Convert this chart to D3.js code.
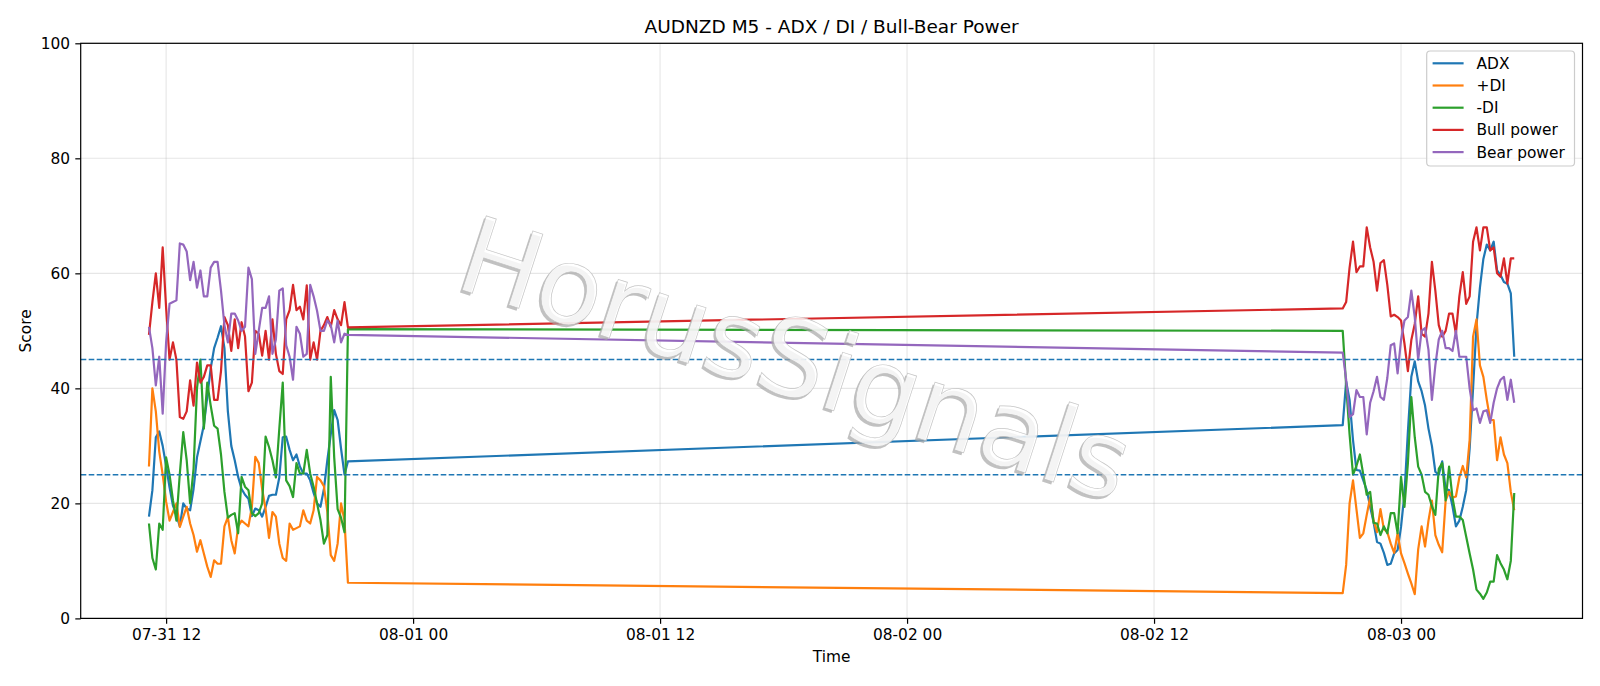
<!DOCTYPE html>
<html><head><meta charset="utf-8">
<script src="https://cdn.jsdelivr.net/npm/d3@7/dist/d3.min.js"></script>
<style>
body{margin:0;background:#fff;}
svg{display:block;font-family:"DejaVu Sans",sans-serif;}
</style>
</head><body>
<svg id="chart" width="1600" height="686"></svg>
<script>
// ---- data (10-minute samples, two trading sessions) ----
const session1Start = "2020-07-31T11:10:00Z";
const session1Count = 59;
const session2Start = "2020-08-02T21:10:00Z";
const session2Count = 51;
const stepMinutes = 10;

const adx = [
  17.7,22.3,31.5,32.5,30,26.5,22.8,19.6,18,16,
  20,19.1,18.8,22.5,28,30.8,33.6,38.5,43.5,47,
  48.8,50.8,47,36,30,27.5,24.6,22.5,21.5,20.8,
  17.8,19.1,18.8,17.7,19.4,21.3,21.5,21.5,24.5,31.5,
  31.6,29.3,27.5,28.5,26.4,25.2,25.2,24,21.8,20,
  19.4,22.5,27.5,32,36.2,34.5,29.5,25,27.3,
  33.6,41.2,38,31,25.8,25.7,24,22.3,19.4,16.7,
  13.3,13,11.4,9.3,9.5,11.3,11.9,15.9,21.7,32.5,
  42,44.7,41.2,39.5,37,33,30,25.5,25,27.3,
  22.5,22.3,19.5,16,17,19.4,22.3,29.5,40,51,
  57.5,62.5,65,64,65.5,60.5,59.7,58.5,58.2,56.5,
  45.5
];
const plusDI = [
  26.4,40,36,29,25,20.3,17,18.5,20,15.9,
  17.7,19.4,16.5,14.5,11.6,13.6,11.3,9,7.2,10.1,
  9.5,9.5,16,17.6,13.6,11.3,16,17,16.5,16,
  19.4,28.1,27,22.5,19,14,18.5,17.7,13,10.5,
  10,16.5,15.4,15.7,16,18.8,17,16.5,18.8,24.6,
  24,23,18.5,11,10,13,20,17,6.2,
  4.4,9.3,20,24,19,14,14.8,18,21,17,
  15,19,15.5,15,13,11.4,14.8,11.3,9.6,7.8,
  6.1,4.2,12,16,12.5,17,20.5,14.5,12.8,11.5,
  20.5,22,21,21.2,24.5,26.5,24.5,31,49,52,
  44,42,38,34.5,34.5,27.5,31.5,28.5,27,22,
  18.8
];
const minusDI = [
  16.5,10.5,8.5,16.5,15.4,28,25,20.5,17,25.2,
  32.4,27.5,20,26,40,45,33,41,37,33.5,
  33,28.5,22,17.5,18,18.3,14.8,24.6,22.9,22.3,
  18.3,17.8,18.3,20,31.6,29.8,27.5,24.5,33,41,
  24,23,21.1,27,25.2,25.2,29.3,25.2,22.9,20,
  17.1,13,14.5,42,28,19,17.5,15,50.3,
  50,40.5,32,25,26.5,28.5,25,21.5,22,16.6,
  16.5,14.5,16,14.8,18.3,18.3,14.8,24.6,19.4,27,
  38.5,31.5,26.4,25,22,21.5,19.5,18,26,27,
  20.5,26.4,21,17.7,17.7,17.1,14.2,11.3,8.5,5,
  4.3,3.4,4.5,6.4,6.4,11,9.6,8.5,6.8,10,
  21.8
];
const bullPower = [
  49.3,55,60,54,64.5,54,45,48,45,35,
  34.7,36,41.4,37,44.5,41,42,44,44,38,
  38,43,52.4,51,46.5,52,47,51.5,49,39.5,
  41,50,49.5,45.7,50,45,52,46,43,42.5,
  52,53.6,58,53.6,54.2,52,57.9,45,48,45,
  50,51,52.4,50.7,53.6,52,51,55,50.6,
  53.9,55,61,65.5,60.2,61.2,61.2,68,64.5,62,
  57,61.8,62.3,58,52.5,52.8,52.4,51.8,47.8,43,
  48.4,51.2,56,49.5,49,53,62,57,51,49,
  50,53,53,49.5,56,60.2,54.7,56,65.5,68,
  64,68,68,64,64.5,60,59.4,62.6,58.2,62.6,
  62.6
];
const bearPower = [
  50.7,47,40.5,45.5,35.6,48,54.7,55,55.3,65.2,
  65,63.8,58.8,62,57.5,60.5,56,56,61,62,
  62,57,51,48,53,53,51.8,50,50.7,61,
  59,46,50,54,54,56,46,48.5,57,57.4,
  47.5,45.5,41.5,50.7,49.5,45.5,46,58,56,53.5,
  50,50,51.8,51,48,51.8,48,49.5,49.3,
  46.2,41.5,35,35.5,39.7,38.5,38.5,32,37.5,39.5,
  42,38.5,38,41.8,47.5,47.8,42.6,48.4,51.8,52.4,
  57,52.4,45,50,50.5,46.7,38,44,48.5,50,
  47,47,46.5,50,45.5,45.5,45.5,40,36.2,36.5,
  34,36,36.2,34,37.5,40,41.5,42,38,41.5,
  37.5
];
const seriesNames = ["ADX","+DI","-DI","Bull power","Bear power"];
const seriesColors = ["#1f77b4","#ff7f0e","#2ca02c","#d62728","#9467bd"];
const thresholdLevels = [25, 45];
const yTickValues = [0,20,40,60,80,100];
const titleText = "AUDNZD M5 - ADX / DI / Bull-Bear Power";
const xLabel = "Time";
const yLabel = "Score";
const watermarkText = "HorusSignals";

// ---- build time index ----
const times = [];
[[session1Start, session1Count],[session2Start, session2Count]].forEach(([s,n])=>{
  const t0 = +new Date(s);
  for (let i=0;i<n;i++) times.push(new Date(t0 + i*stepMinutes*60000));
});
const seriesValues = [adx, plusDI, minusDI, bullPower, bearPower];

// ---- layout ----
const plot = {left:80.7, right:1582.5, top:43.3, bottom:618.4};
const svg = d3.select("#chart");

const tMin = d3.min(times), tMax = d3.max(times);
const span = tMax - tMin;
const x = d3.scaleUtc()
  .domain([new Date(+tMin - 0.05*span), new Date(+tMax + 0.05*span)])
  .range([plot.left, plot.right]);
const y = d3.scaleLinear().domain([0,100]).range([plot.bottom, plot.top]);

const xTicks = x.ticks(d3.utcHour.every(12));
const fmt = d3.utcFormat("%m-%d %H");

// grid
const grid = svg.append("g").attr("stroke","#b0b0b0").attr("stroke-opacity",0.32).attr("stroke-width",1.1);
xTicks.forEach(t=>grid.append("line").attr("x1",x(t)).attr("x2",x(t)).attr("y1",plot.top).attr("y2",plot.bottom));
yTickValues.forEach(v=>grid.append("line").attr("x1",plot.left).attr("x2",plot.right).attr("y1",y(v)).attr("y2",y(v)));

// lines
const lineGen = vals => d3.line().x((d,i)=>x(times[i])).y(d=>y(d))(vals);
const linesG = svg.append("g").attr("fill","none").attr("stroke-width",2.2).attr("stroke-linejoin","round").attr("stroke-linecap","butt");
seriesValues.forEach((vals,k)=>{
  linesG.append("path").attr("d", lineGen(vals)).attr("stroke", seriesColors[k]);
});

// thresholds
thresholdLevels.forEach(v=>{
  svg.append("line").attr("x1",plot.left).attr("x2",plot.right).attr("y1",y(v)).attr("y2",y(v))
    .attr("stroke","#1f77b4").attr("stroke-width",1.5).attr("stroke-dasharray","5.6,2.4");
});

// axes
const xAxis = d3.axisBottom(x).tickValues(xTicks).tickFormat(fmt).tickSize(5.4).tickPadding(5.2);
const gx = svg.append("g").attr("transform",`translate(0,${plot.bottom})`).call(xAxis);
const yAxis = d3.axisLeft(y).tickValues(yTickValues).tickSize(5.4).tickPadding(5.2);
const gy = svg.append("g").attr("transform",`translate(${plot.left},0)`).call(yAxis);
[gx,gy].forEach(g=>{
  g.select(".domain").remove();
  g.selectAll(".tick line").attr("stroke","#000").attr("stroke-width",1.2);
  g.selectAll(".tick text").attr("fill","#000").style("font-size","15.4px").style("font-family","DejaVu Sans");
});

// spines
svg.append("rect").attr("x",plot.left).attr("y",plot.top).attr("width",plot.right-plot.left).attr("height",plot.bottom-plot.top)
  .attr("fill","none").attr("stroke","#000").attr("stroke-width",1.2);

// title & labels
svg.append("text").attr("x",(plot.left+plot.right)/2).attr("y",26.5).attr("dy","0.36em").attr("text-anchor","middle")
  .style("font-size","18.5px").text(titleText);
svg.append("text").attr("x",(plot.left+plot.right)/2).attr("y",656).attr("dy","0.36em").attr("text-anchor","middle")
  .style("font-size","15.4px").text(xLabel);
svg.append("text").attr("transform",`translate(25.5,${(plot.top+plot.bottom)/2}) rotate(-90)`).attr("dy","0.36em").attr("text-anchor","middle")
  .style("font-size","15.4px").text(yLabel);

// legend
const lg = svg.append("g");
lg.append("rect").attr("x",1426.7).attr("y",51).attr("width",147.8).attr("height",115).attr("rx",3.5)
  .attr("fill","#fff").attr("fill-opacity",0.8).attr("stroke","#cccccc").attr("stroke-width",1.2);
seriesNames.forEach((n,k)=>{
  const yy = 63.3 + k*22.2;
  lg.append("line").attr("x1",1432.6).attr("x2",1463.6).attr("y1",yy).attr("y2",yy).attr("stroke",seriesColors[k]).attr("stroke-width",2.2);
  lg.append("text").attr("x",1476.5).attr("y",yy).attr("dy","0.36em").style("font-size","15.4px").text(n);
});

// watermark (white glyphs, thin grey outline, grey drop shadow)
const wmX = 796, wmY = 358, wmAngle = 18, wmSize = 107;
svg.append("text").attr("transform",`translate(${wmX-2.2},${wmY+2.4}) rotate(${wmAngle})`)
  .attr("text-anchor","middle").attr("dy","0.36em")
  .style("font-size",wmSize+"px").attr("fill","#a6a6a6").attr("fill-opacity",0.7).text(watermarkText);
svg.append("text").attr("transform",`translate(${wmX},${wmY}) rotate(${wmAngle})`)
  .attr("text-anchor","middle").attr("dy","0.36em")
  .style("font-size",wmSize+"px").attr("fill","#ffffff").attr("fill-opacity",0.82)
  .attr("stroke","#b8b8b8").attr("stroke-width",0.7).attr("stroke-opacity",0.8).text(watermarkText);
</script>
</body></html>
